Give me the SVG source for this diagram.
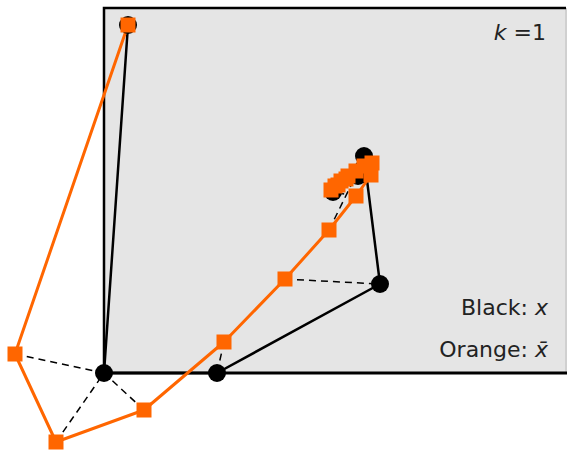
<svg xmlns="http://www.w3.org/2000/svg" width="567" height="451" viewBox="0 0 567 451">
<style>
.dash{stroke:#000;stroke-width:1.5;stroke-dasharray:7,5;fill:none}
.bl{stroke:#000;stroke-width:2.5;fill:none;stroke-linejoin:round}
.or{stroke:#ff6600;stroke-width:3;fill:none;stroke-linejoin:round}
.pt{fill:#000}
.sq{fill:#ff6600}
.lbl{font-family:"DejaVu Sans","Liberation Sans",sans-serif;font-size:22px;fill:#222}
</style>
<defs>
<circle id="c" r="9"/>
<rect id="s" x="-7.5" y="-7.5" width="15" height="15"/>
</defs>
<g id="box">
<rect x="104" y="8" width="463" height="365" fill="#e5e5e5"/>
<line x1="566" y1="8" x2="566" y2="373" stroke="#bbb" stroke-width="1"/>
<path d="M104,373 V8 H566" stroke="#000" stroke-width="2.5" fill="none"/>
<line x1="103" y1="373" x2="567" y2="373" stroke="#000" stroke-width="3"/>
</g>
<g id="connectors">
<g id="dashes">
<line class="dash" x1="15" y1="354" x2="104" y2="373"/>
<line class="dash" x1="56" y1="442" x2="104" y2="373"/>
<line class="dash" x1="144" y1="410" x2="104" y2="373"/>
<line class="dash" x1="224" y1="342" x2="217" y2="373"/>
<line class="dash" x1="285" y1="279" x2="380" y2="284"/>
<line class="dash" x1="329" y1="230" x2="365" y2="157"/>
<line class="dash" x1="356" y1="196" x2="333" y2="192"/>
</g>
<polyline id="black-path" class="bl" points="128,25 104,373 217,373 380,284 364,156 333,192 358,176 352,179 347,182"/>
<polyline id="orange-path" class="or" points="128,25 15,354 56,442 144,410 224,342 285,279 329,230 356,196 371,175 372,163 364,166 356,171 348,176 341,181 335,186 331,190 338,185 346,179"/>
</g>
<g id="x-points" class="pt">
<use href="#c" x="128" y="25"/>
<use href="#c" x="104" y="373"/>
<use href="#c" x="217" y="373"/>
<use href="#c" x="380" y="284"/>
<use href="#c" x="364" y="156"/>
<use href="#c" x="333" y="192"/>
<use href="#c" x="358" y="176"/>
</g>
<g id="xbar-points" class="sq">
<use href="#s" x="128" y="25"/>
<use href="#s" x="15" y="354"/>
<use href="#s" x="56" y="442"/>
<use href="#s" x="144" y="410"/>
<use href="#s" x="224" y="342"/>
<use href="#s" x="285" y="279"/>
<use href="#s" x="329" y="230"/>
<use href="#s" x="356" y="196"/>
<use href="#s" x="371" y="175"/>
<use href="#s" x="372" y="163"/>
<use href="#s" x="364" y="166"/>
<use href="#s" x="356" y="171"/>
<use href="#s" x="348" y="176"/>
<use href="#s" x="341" y="181"/>
<use href="#s" x="335" y="186"/>
<use href="#s" x="331" y="190"/>
<use href="#s" x="338" y="185"/>
<use href="#s" x="346" y="179"/>
</g>
<g id="labels">
<text class="lbl" x="546" y="40" text-anchor="end"><tspan font-style="italic">k</tspan> =1</text>
<text class="lbl" x="548" y="315" text-anchor="end">Black: <tspan font-style="italic">x</tspan></text>
<text class="lbl" x="548" y="357" text-anchor="end">Orange: <tspan font-style="italic">x̄</tspan></text>
</g>
</svg>
